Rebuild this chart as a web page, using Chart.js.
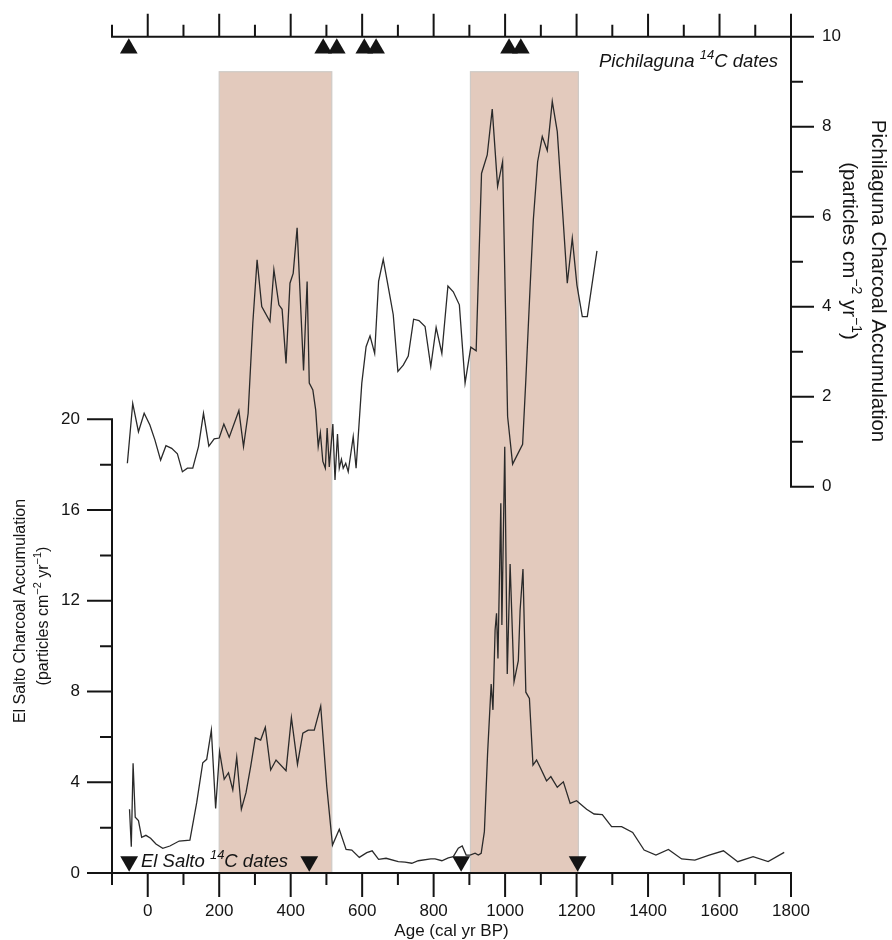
<!DOCTYPE html>
<html>
<head>
<meta charset="utf-8">
<script src="https://cdn.jsdelivr.net/npm/chart.js@4/dist/chart.umd.min.js"></script>
<style>
  html, body { margin: 0; padding: 0; background: #fff; }
  canvas { display: block; }
</style>
</head>
<body>
<canvas id="chart" width="892" height="940"></canvas>
<script>
// El Salto charcoal accumulation (left axis), age in cal yr BP
const elSaltoAges = [-51,-46,-41,-35,-26,-17,-5,8,23,42,62,88,118,137,154,165,178,190,201,214,226,238,249,262,275,288,301,316,329,344,359,387,402,419,434,449,466,484,501,517,536,555,571,592,613,628,646,667,701,720,739,757,792,804,823,841,855,869,880,891,902,916,925,933,942,951,961,966,972,976,980,988,991,999,1006,1014,1025,1037,1042,1050,1058,1068,1078,1088,1098,1116,1128,1146,1163,1182,1200,1228,1249,1272,1298,1326,1357,1389,1422,1457,1494,1531,1571,1611,1651,1694,1736,1781];
const elSaltoValues = [2.81,1.16,4.84,2.46,2.31,1.57,1.66,1.53,1.28,1.09,1.19,1.41,1.45,3.10,4.86,5.01,6.30,2.85,5.35,4.13,4.42,3.66,5.10,2.81,3.54,4.69,5.96,5.86,6.42,4.54,4.98,4.51,6.85,4.79,6.16,6.30,6.30,7.36,3.80,1.23,1.93,1.04,1.01,0.69,0.90,0.98,0.60,0.65,0.50,0.48,0.43,0.54,0.62,0.62,0.54,0.67,0.72,1.09,1.19,0.79,0.79,0.87,0.79,0.87,1.82,5.28,8.33,7.19,10.71,11.45,9.46,16.30,10.93,18.79,8.77,13.62,8.43,9.36,11.59,13.40,7.97,7.70,4.76,4.98,4.66,4.06,4.25,3.78,4.02,3.07,3.19,2.81,2.60,2.57,2.04,2.04,1.79,1.01,0.79,1.04,0.62,0.57,0.79,0.98,0.50,0.72,0.50,0.91];

// Pichilaguna charcoal accumulation (right axis)
const pichiAges = [-57,-42,-26,-10,6,20,36,51,67,83,97,111,126,142,156,171,186,200,213,228,255,268,281,294,306,319,342,353,367,376,387,398,407,418,436,446,452,462,470,477,483,490,497,502,508,518,524,531,536,542,547,554,561,575,583,599,611,622,635,646,659,673,687,700,715,729,744,759,776,792,807,823,840,855,872,888,904,919,934,950,964,979,993,1007,1021,1049,1058,1070,1079,1091,1104,1118,1132,1146,1160,1174,1188,1201,1216,1230,1257];
const pichiValues = [0.52,1.85,1.22,1.63,1.37,1.04,0.59,0.91,0.85,0.73,0.33,0.41,0.41,0.89,1.63,0.90,1.06,1.08,1.39,1.10,1.69,0.89,1.63,3.63,5.04,4.0,3.67,4.82,4.04,3.94,2.74,4.52,4.74,5.75,2.58,4.56,2.30,2.15,1.70,0.89,1.2,0.56,0.41,1.30,0.44,1.39,0.15,1.17,0.41,0.61,0.41,0.52,0.33,1.11,0.41,2.30,3.11,3.35,2.96,4.56,5.05,4.44,3.82,2.56,2.70,2.90,3.72,3.69,3.56,2.67,3.54,2.96,4.46,4.33,4.04,2.30,3.10,3.02,6.96,7.37,8.39,6.67,7.22,1.56,0.50,0.94,2.37,4.44,5.93,7.22,7.78,7.47,8.56,7.89,6.22,4.52,5.52,4.48,3.78,3.78,5.24];

// radiocarbon dates (cal yr BP)
const elSaltoDates = [-52, 452, 877, 1203];
const pichiDates = [-53, 491, 529, 606, 639, 1011, 1044];

// shaded periods
const bandStarts = [200, 903];
const bandEnds = [515, 1205];

// tick values
const ageTicks = [-100,0,100,200,300,400,500,600,700,800,900,1000,1100,1200,1300,1400,1500,1600,1700,1800];
const ageLabels = [0,200,400,600,800,1000,1200,1400,1600,1800];
const leftTicks = [0,2,4,6,8,10,12,14,16,18,20];
const leftLabels = [0,4,8,12,16,20];
const rightTicks = [0,1,2,3,4,5,6,7,8,9,10];
const rightLabels = [0,2,4,6,8,10];

const FONT = '"Liberation Sans", Arial, Helvetica, sans-serif';
const INK = '#141414';
const UNITS = [['(particles cm', false], ['\u22122', true], [' yr', false], ['\u22121', true], [')', false]];

// draw text with superscript pieces: parts = [[text, isSup], ...]
function drawRich(ctx, parts, x, y, align, size, italic) {
    const st = italic ? 'italic ' : '';
    const base = st + size + 'px ' + FONT;
    const small = st + Math.round(size * 0.68) + 'px ' + FONT;
    let w = 0;
    parts.forEach(p => { ctx.font = p[1] ? small : base; w += ctx.measureText(p[0]).width; });
    let cx = align === 'center' ? x - w / 2 : (align === 'right' ? x - w : x);
    ctx.textAlign = 'left';
    ctx.textBaseline = 'alphabetic';
    parts.forEach(p => {
        ctx.font = p[1] ? small : base;
        ctx.fillText(p[0], cx, p[1] ? y - size * 0.42 : y);
        cx += ctx.measureText(p[0]).width;
    });
}

const axesPlugin = {
    id: 'customAxes',
    beforeDatasetsDraw(chart) {
        const ctx = chart.ctx;
        const x = chart.scales.x, yR = chart.scales.yR, yL = chart.scales.yL;
        const top = yR.getPixelForValue(9.22);
        const bottom = yL.getPixelForValue(0);
        ctx.save();
        for (let i = 0; i < bandStarts.length; i++) {
            const x0 = x.getPixelForValue(bandStarts[i]);
            const x1 = x.getPixelForValue(bandEnds[i]);
            ctx.fillStyle = '#e3cabd';
            ctx.fillRect(x0, top, x1 - x0, bottom - top);
            ctx.strokeStyle = '#cfcac6';
            ctx.lineWidth = 1.2;
            ctx.strokeRect(x0, top, x1 - x0, bottom - top);
        }
        ctx.restore();
    },
    afterDraw(chart) {
        const ctx = chart.ctx;
        const x = chart.scales.x, yL = chart.scales.yL, yR = chart.scales.yR;
        const xa = v => x.getPixelForValue(v);
        const left = xa(-100), right = xa(1800);
        const y0 = yL.getPixelForValue(0);
        const yTop = yR.getPixelForValue(10);
        ctx.save();
        ctx.strokeStyle = INK;
        ctx.fillStyle = INK;
        ctx.lineWidth = 2;
        ctx.lineCap = 'butt';
        ctx.beginPath();
        // bottom axis + ticks
        ctx.moveTo(left - 1, y0); ctx.lineTo(right + 1, y0);
        ageTicks.forEach(t => {
            const len = t % 200 === 0 ? 24 : 12;
            ctx.moveTo(xa(t), y0); ctx.lineTo(xa(t), y0 + len);
        });
        // left axis
        ctx.moveTo(left, y0); ctx.lineTo(left, yL.getPixelForValue(20) - 1);
        leftTicks.forEach(t => {
            const len = t % 4 === 0 ? 25 : 12;
            const py = yL.getPixelForValue(t);
            ctx.moveTo(left, py); ctx.lineTo(left - len, py);
        });
        // top axis
        ctx.moveTo(left - 1, yTop); ctx.lineTo(right + 23, yTop);
        ageTicks.forEach(t => {
            const len = t % 200 === 0 ? 23 : 12;
            ctx.moveTo(xa(t), yTop); ctx.lineTo(xa(t), yTop - len);
        });
        // right axis
        ctx.moveTo(right, yTop); ctx.lineTo(right, yR.getPixelForValue(0) + 1);
        rightTicks.forEach(t => {
            const len = t % 2 === 0 ? 23 : 12;
            const py = yR.getPixelForValue(t);
            ctx.moveTo(right, py); ctx.lineTo(right + len, py);
        });
        ctx.stroke();

        // tick labels
        ctx.font = '17px ' + FONT;
        ctx.textBaseline = 'middle';
        ctx.textAlign = 'center';
        ageLabels.forEach(t => ctx.fillText(String(t), xa(t), y0 + 38));
        ctx.textAlign = 'right';
        leftLabels.forEach(t => ctx.fillText(String(t), left - 32, yL.getPixelForValue(t)));
        ctx.textAlign = 'left';
        rightLabels.forEach(t => ctx.fillText(String(t), right + 31, yR.getPixelForValue(t)));

        // axis titles
        ctx.textAlign = 'center';
        ctx.textBaseline = 'middle';
        ctx.font = '17px ' + FONT;
        ctx.fillText('Age (cal yr BP)', (left + right) / 2, 931);

        // left title, reads bottom to top
        ctx.save();
        ctx.rotate(-Math.PI / 2);
        drawRich(ctx, [['El Salto Charcoal Accumulation', false]], -611, 25, 'center', 16, false);
        drawRich(ctx, UNITS, -616, 48, 'center', 16, false);
        ctx.restore();

        // right title, reads top to bottom
        ctx.save();
        ctx.translate(892, 0);
        ctx.rotate(Math.PI / 2);
        drawRich(ctx, [['Pichilaguna Charcoal Accumulation', false]], 281, 20, 'center', 20.5, false);
        drawRich(ctx, UNITS, 251, 49, 'center', 20.5, false);
        ctx.restore();

        // date captions
        drawRich(ctx, [['Pichilaguna ', false], ['14', true], ['C dates', false]], 778, 67, 'right', 18.5, true);
        drawRich(ctx, [['El Salto ', false], ['14', true], ['C dates', false]], 141, 867, 'left', 18.5, true);
        ctx.restore();
    }
};

const ctx = document.getElementById('chart').getContext('2d');
new Chart(ctx, {
    type: 'line',
    data: {
        datasets: [
            {
                label: 'El Salto',
                data: elSaltoAges.map((a, i) => ({ x: a, y: elSaltoValues[i] })),
                yAxisID: 'yL',
                borderColor: '#2a2a2a',
                borderWidth: 1.3,
                pointRadius: 0,
                tension: 0
            },
            {
                label: 'Pichilaguna',
                data: pichiAges.map((a, i) => ({ x: a, y: pichiValues[i] })),
                yAxisID: 'yR',
                borderColor: '#2a2a2a',
                borderWidth: 1.3,
                pointRadius: 0,
                tension: 0
            },
            {
                label: 'El Salto dates',
                type: 'scatter',
                data: elSaltoDates.map(a => ({ x: a, y: 0.51 })),
                yAxisID: 'yL',
                pointStyle: 'triangle',
                rotation: 180,
                pointRadius: 10.3,
                backgroundColor: INK,
                borderWidth: 0
            },
            {
                label: 'Pichilaguna dates',
                type: 'scatter',
                data: pichiDates.map(a => ({ x: a, y: 9.74 })),
                yAxisID: 'yR',
                pointStyle: 'triangle',
                pointRadius: 10.2,
                backgroundColor: INK,
                borderWidth: 0
            }
        ]
    },
    options: {
        responsive: false,
        animation: false,
        events: [],
        layout: { padding: { left: 112, right: 101, top: 13, bottom: 67 } },
        plugins: { legend: { display: false }, tooltip: { enabled: false } },
        scales: {
            x: { type: 'linear', min: -100, max: 1800, display: false },
            yL: { type: 'linear', min: 0, max: 37.91, display: false },
            yR: { type: 'linear', min: -8.585, max: 10.525, display: false }
        }
    },
    plugins: [axesPlugin]
});
</script>
</body>
</html>
